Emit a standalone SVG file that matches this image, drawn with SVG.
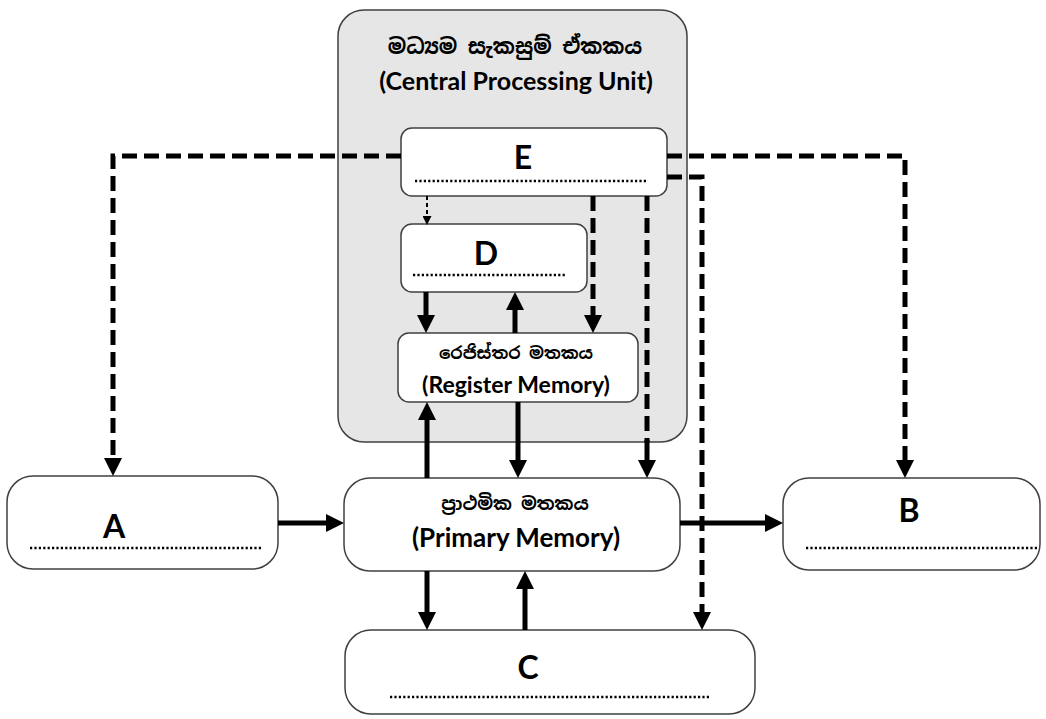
<svg xmlns="http://www.w3.org/2000/svg" width="1046" height="719" viewBox="0 0 1046 719">
<style>
.box{fill:#fff;stroke:#404040;stroke-width:1.5}
.cpu{fill:#e6e6e6;stroke:#404040;stroke-width:1.5}
.lbl{font-family:Lato,"Liberation Sans",sans-serif;font-weight:bold;fill:#000;text-anchor:middle}
.sin{font-family:"Noto Sans Sinhala","Noto Serif Sinhala","Noto Sans",sans-serif;fill:#000;text-anchor:middle;font-weight:bold}
.dot{stroke:#000;stroke-width:2.5;stroke-dasharray:2.2 2.2;fill:none}
.solid{stroke:#000;stroke-width:5;fill:none}
.dash{stroke:#000;stroke-width:5;fill:none;stroke-dasharray:15 7}
.thin{stroke:#000;stroke-width:2;fill:none;stroke-dasharray:4 3}
</style>
<defs>
<marker id="ah" markerUnits="userSpaceOnUse" markerWidth="18" markerHeight="18" viewBox="0 0 18 18" refX="8" refY="9" orient="auto"><path d="M0,0 L18,9 L0,18 z" fill="#000"/></marker>
<marker id="ahs" markerUnits="userSpaceOnUse" markerWidth="9" markerHeight="9" viewBox="0 0 9 9" refX="4" refY="4.5" orient="auto"><path d="M0,0 L9,4.5 L0,9 z" fill="#000"/></marker>
</defs>
<rect width="1046" height="719" fill="#fff"/>
<g id="cpu">
<rect class="cpu" x="338" y="10" width="349" height="432" rx="26"/>
<text class="sin" x="515" y="54" font-size="21">මධ්‍යම සැකසුම් ඒකකය</text>
<text class="lbl" x="516" y="90" font-size="25">(Central Processing Unit)</text>
</g>
<g id="E">
<rect class="box" x="401" y="128" width="266" height="68" rx="11"/>
<text class="lbl" x="523" y="169" font-size="32">E</text>
<line class="dot" x1="415" y1="181" x2="646" y2="181"/>
</g>
<g id="D">
<rect class="box" x="401" y="224" width="186" height="68" rx="11"/>
<text class="lbl" x="486" y="265" font-size="32">D</text>
<line class="dot" x1="413" y1="275" x2="565" y2="275"/>
</g>
<g id="register">
<rect class="box" x="398" y="333" width="240" height="69" rx="11"/>
<text class="sin" x="516" y="359" font-size="17">රෙජිස්තර මතකය</text>
<text class="lbl" x="516" y="393" font-size="23">(Register Memory)</text>
</g>
<g id="primary">
<rect class="box" x="344" y="478" width="336" height="93" rx="26"/>
<text class="sin" x="515" y="510" font-size="18">ප්‍රාථමික මතකය</text>
<text class="lbl" x="516" y="547" font-size="26">(Primary Memory)</text>
</g>
<g id="A">
<rect class="box" x="7" y="476" width="271" height="93" rx="26"/>
<text class="lbl" x="114" y="538" font-size="32">A</text>
<line class="dot" x1="30" y1="548" x2="261" y2="548"/>
</g>
<g id="B">
<rect class="box" x="783" y="478" width="257" height="92" rx="26"/>
<text class="lbl" x="909" y="522" font-size="32">B</text>
<line class="dot" x1="806" y1="548" x2="1037" y2="548"/>
</g>
<g id="C">
<rect class="box" x="345" y="630" width="410" height="84" rx="26"/>
<text class="lbl" x="528" y="679" font-size="32">C</text>
<line class="dot" x1="390" y1="697" x2="710" y2="697"/>
</g>
<g id="connectors">
<path class="dash" d="M401,156 H113 V466" marker-end="url(#ah)"/>
<path class="dash" d="M667,156 H905 V468" marker-end="url(#ah)"/>
<path class="dash" d="M667,177 H702 V620" marker-end="url(#ah)"/>
<path class="dash" d="M647,196 V442"/>
<path class="solid" d="M647,440 V468" marker-end="url(#ah)"/>
<path class="dash" d="M593,196 V323" marker-end="url(#ah)"/>
<path class="thin" d="M427,196 V220" marker-end="url(#ahs)"/>
<path class="solid" d="M426,292 V323" marker-end="url(#ah)"/>
<path class="solid" d="M515,333 V302" marker-end="url(#ah)"/>
<path class="solid" d="M427,478 V412" marker-end="url(#ah)"/>
<path class="solid" d="M518,402 V468" marker-end="url(#ah)"/>
<path class="solid" d="M278,523 H334" marker-end="url(#ah)"/>
<path class="solid" d="M680,523 H773" marker-end="url(#ah)"/>
<path class="solid" d="M427,571 V620" marker-end="url(#ah)"/>
<path class="solid" d="M525,630 V581" marker-end="url(#ah)"/>
</g>
</svg>
